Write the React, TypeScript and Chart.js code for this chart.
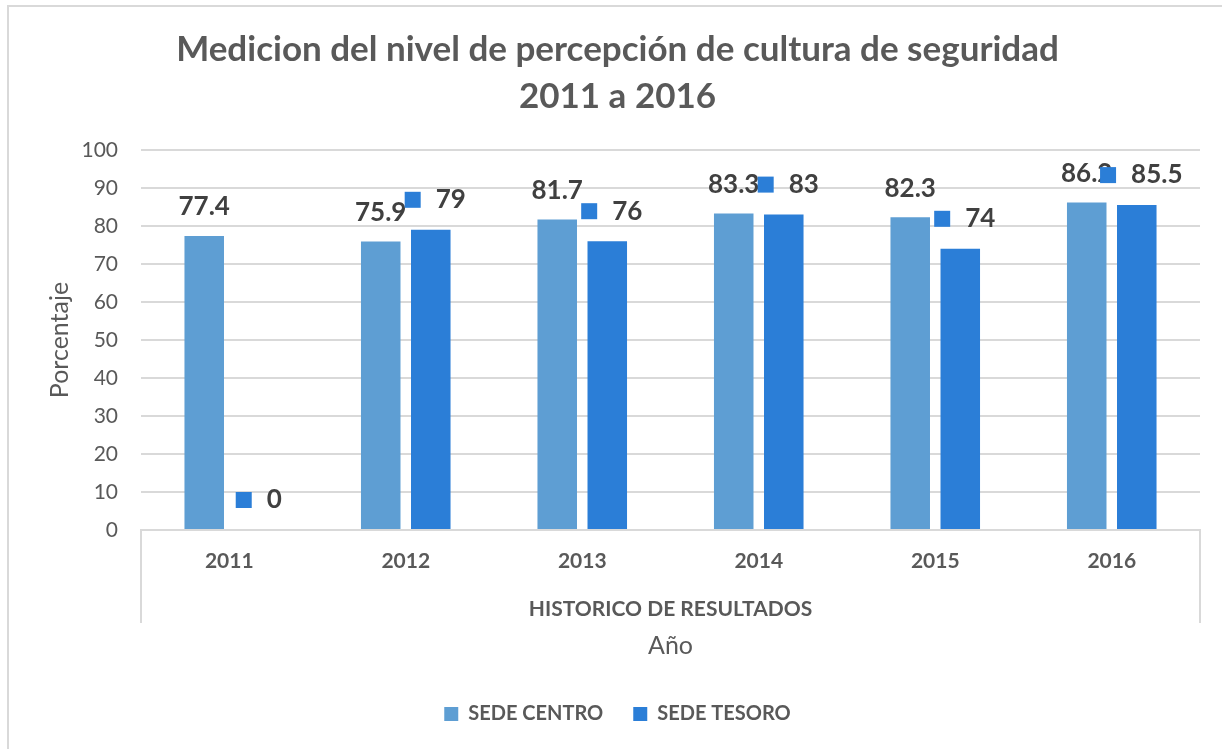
import React, { useEffect, useRef } from "react";
import { Chart, registerables } from "chart.js";

Chart.register(...registerables);

const TITLE_LINES = ["Medicion del nivel de percepción de cultura de seguridad", "2011 a 2016"];
const YEARS = ["2011", "2012", "2013", "2014", "2015", "2016"];
const SERIES_NAMES = ["SEDE CENTRO", "SEDE TESORO"];
const SEDE_CENTRO = [77.4, 75.9, 81.7, 83.3, 82.3, 86.2];
const SEDE_TESORO = [0, 79, 76, 83, 74, 85.5];
const Y_MIN = 0;
const Y_MAX = 100;
const Y_STEP = 10;
const GROUP_LABEL = "HISTORICO DE RESULTADOS";
const X_TITLE = "Año";
const Y_TITLE = "Porcentaje";

const FONT = "Lato, 'Open Sans', sans-serif";
const LIGHT = "#5e9ed3";
const DARK = "#2b7ed7";
const TEXT = "#595959";
const LABEL = "#404040";
const LINE = "#d9d9d9";

const framePlugin = {
  id: "frame",
  beforeDraw(chart: any) {
    const ctx = chart.ctx;
    ctx.save();
    ctx.fillStyle = "#ffffff";
    ctx.fillRect(0, 0, chart.width, chart.height);
    ctx.strokeStyle = LINE;
    ctx.lineWidth = 2;
    ctx.strokeRect(8, 6, chart.width + 20, chart.height + 20);
    ctx.restore();
  },
};

const categoryBoxPlugin = {
  id: "categoryBox",
  afterDraw(chart: any) {
    const xs = chart.scales.x;
    const ctx = chart.ctx;
    ctx.save();
    ctx.strokeStyle = LINE;
    ctx.lineWidth = 2;
    ctx.beginPath();
    ctx.moveTo(xs.left, xs.top);
    ctx.lineTo(xs.left, xs.bottom);
    ctx.moveTo(xs.right, xs.top);
    ctx.lineTo(xs.right, xs.bottom);
    ctx.stroke();
    ctx.restore();
  },
};

const valueLabelPlugin = {
  id: "valueLabels",
  afterDatasetsDraw(chart: any) {
    const ctx = chart.ctx;
    ctx.save();
    ctx.font = `bold 26px ${FONT}`;
    ctx.textBaseline = "middle";
    const m0 = chart.getDatasetMeta(0);
    m0.data.forEach((bar: any, i: number) => {
      ctx.fillStyle = LABEL;
      ctx.textAlign = "center";
      ctx.fillText(String(SEDE_CENTRO[i]), bar.x, bar.y - 29);
    });
    const m1 = chart.getDatasetMeta(1);
    m1.data.forEach((bar: any, i: number) => {
      const txt = String(SEDE_TESORO[i]);
      const tw = ctx.measureText(txt).width;
      const total = 16 + 15 + tw;
      const left = bar.x + 4.5 - total / 2;
      const cy = bar.y - 30;
      ctx.fillStyle = DARK;
      ctx.fillRect(left, cy - 8, 16, 16);
      ctx.fillStyle = LABEL;
      ctx.textAlign = "left";
      ctx.fillText(txt, left + 31, cy);
    });
    ctx.restore();
  },
};

export default function App() {
  const ref = useRef<HTMLCanvasElement>(null);
  useEffect(() => {
    const canvas = ref.current;
    if (!canvas) return;
    const chart = new Chart(canvas, {
      type: "bar",
      data: {
        labels: YEARS,
        datasets: [
          {
            label: SERIES_NAMES[0],
            data: SEDE_CENTRO,
            backgroundColor: LIGHT,
            borderWidth: 0,
            xAxisID: "x",
            yAxisID: "y",
            categoryPercentage: 0.567,
            barPercentage: 0.79,
          },
          {
            label: SERIES_NAMES[1],
            data: SEDE_TESORO,
            backgroundColor: DARK,
            borderWidth: 0,
            xAxisID: "x",
            yAxisID: "y",
            categoryPercentage: 0.567,
            barPercentage: 0.79,
          },
        ],
      },
      options: {
        responsive: false,
        animation: false,
        devicePixelRatio: 1,
        events: [],
        layout: { padding: { top: 10, left: 35, right: 22, bottom: 15 } },
        plugins: {
          tooltip: { enabled: false },
          title: {
            display: true,
            text: TITLE_LINES,
            color: TEXT,
            font: { family: FONT, size: 35, weight: "bold", lineHeight: 47 / 35 },
            padding: { top: 16.5, bottom: 29.5 },
          },
          legend: {
            display: true,
            position: "bottom",
            labels: {
              boxWidth: 14,
              boxHeight: 14,
              padding: 30,
              color: TEXT,
              font: { family: FONT, size: 20, weight: "bold" },
            },
          },
        },
        scales: {
          x: {
            type: "category",
            position: "bottom",
            weight: 1,
            grid: { display: false },
            border: { display: true, color: LINE, width: 2 },
            ticks: { color: TEXT, padding: 11, font: { family: FONT, size: 21, weight: "bold" } },
            title: {
              display: true,
              text: GROUP_LABEL,
              color: TEXT,
              font: { family: FONT, size: 21, weight: "bold" },
              padding: { top: 0, bottom: 1 },
            },
            afterFit: (s: any) => {
              s.height = 93;
            },
          },
          x2: {
            type: "category",
            position: "bottom",
            weight: 2,
            labels: YEARS,
            grid: { display: false },
            border: { display: false },
            ticks: { display: false },
            title: {
              display: true,
              text: X_TITLE,
              color: TEXT,
              font: { family: FONT, size: 25 },
              padding: { top: 0, bottom: 13 },
            },
            afterFit: (s: any) => {
              s.height = 51;
            },
          },
          y: {
            type: "linear",
            min: Y_MIN,
            max: Y_MAX,
            ticks: { stepSize: Y_STEP, padding: 23, color: TEXT, font: { family: FONT, size: 21 } },
            grid: { color: LINE, lineWidth: 2, drawTicks: false },
            border: { display: false },
            title: {
              display: true,
              text: Y_TITLE,
              color: TEXT,
              font: { family: FONT, size: 25 },
              padding: { top: 10, bottom: 0 },
            },
            afterFit: (s: any) => {
              s.width = 106;
            },
          },
        },
      } as any,
      plugins: [framePlugin, categoryBoxPlugin, valueLabelPlugin],
    });
    return () => chart.destroy();
  }, []);
  return (
    <div style={{ position: "fixed", left: 0, top: 0, width: 1222, height: 749, background: "#fff" }}>
      <canvas ref={ref} width={1222} height={749} style={{ display: "block" }} />
    </div>
  );
}
